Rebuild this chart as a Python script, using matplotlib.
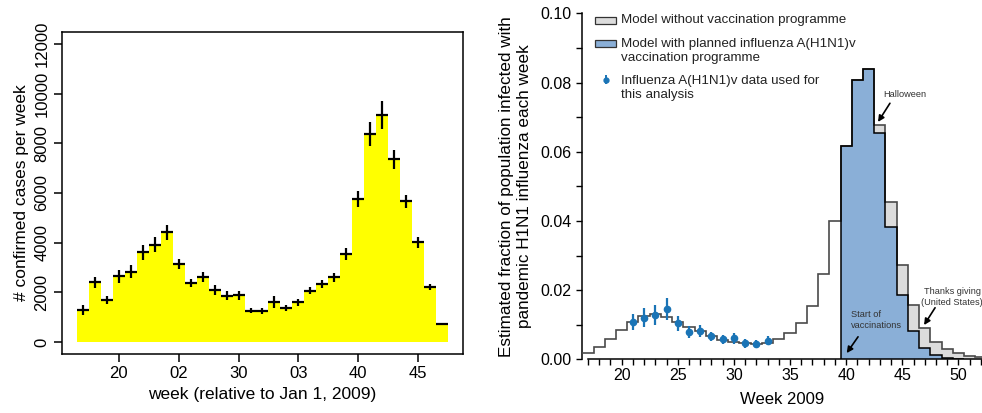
import matplotlib
matplotlib.use("Agg")
import matplotlib.pyplot as plt
import numpy as np
from matplotlib.patches import Rectangle
from matplotlib.ticker import FixedLocator, FormatStrFormatter

plt.rcParams['font.family'] = ['Liberation Sans', 'DejaVu Sans']

# ---- left panel: confirmed cases per week ----
weeks_left = list(range(17, 48))
cases = [1300, 2400, 1700, 2640, 2840, 3620, 3910, 4410, 3140, 2370, 2600,
         2100, 1860, 1880, 1270, 1250, 1610, 1370, 1600, 2060, 2330, 2600,
         3550, 5750, 8380, 9140, 7360, 5660, 4010, 2210, 720]
case_err = [200, 230, 160, 270, 250, 300, 300, 290, 200, 150, 200,
            200, 180, 180, 100, 120, 230, 120, 150, 140, 150, 180,
            230, 320, 470, 550, 380, 270, 230, 110, 50]
left_xticks = [20, 25, 30, 35, 40, 45]
left_xlabels = ["20", "02", "30", "03", "40", "45"]
left_yticks = [0, 2000, 4000, 6000, 8000, 10000, 12000]

# ---- right panel: model fractions ----
weeks_right = list(range(17, 53))
no_vacc = [0.0019, 0.0036, 0.0059, 0.0086, 0.0109, 0.0125, 0.0131, 0.0123,
           0.0109, 0.0094, 0.0083, 0.0068, 0.0056, 0.0051, 0.0046, 0.0044,
           0.0048, 0.0058, 0.0075, 0.0104, 0.0154, 0.0246, 0.0400, 0.0617,
           0.0807, 0.0838, 0.0676, 0.0454, 0.0273, 0.0157, 0.0090, 0.0051,
           0.0029, 0.0017, 0.0011, 0.0006]
weeks_vacc = list(range(40, 51))
with_vacc = [0.0617, 0.0807, 0.0838, 0.0653, 0.0383, 0.0186, 0.0081,
             0.0032, 0.0013, 0.0004, 0.0001]
data_weeks = list(range(21, 34))
data_vals = [0.0107, 0.0120, 0.0128, 0.0145, 0.0104, 0.0078, 0.0082,
             0.0066, 0.0058, 0.0061, 0.0046, 0.0044, 0.0054]
data_err = [0.0023, 0.0027, 0.0029, 0.0032, 0.0022, 0.0017, 0.0018,
            0.0014, 0.0013, 0.0016, 0.0012, 0.0011, 0.0012]
right_xticks = [20, 25, 30, 35, 40, 45, 50]
right_yticks = [0.0, 0.02, 0.04, 0.06, 0.08, 0.10]
right_yminor = [0.01, 0.03, 0.05, 0.07, 0.09]

GRAY = '#DCDCDC'
BLUE = '#8AAFD7'
DOT = '#1A74B6'

fig = plt.figure(figsize=(9.82, 4.13), dpi=100)

# ================= left =================
ax1 = fig.add_axes([0.0631, 0.1429, 0.4084, 0.7796])
ax1.bar(weeks_left, cases, width=1.0, color='#FFFF00', linewidth=0)
ax1.errorbar(weeks_left, cases, yerr=case_err, xerr=0.5, fmt='none',
             ecolor='black', elinewidth=1.6, capsize=0)
ax1.set_xlim(15.26, 48.74)
ax1.set_ylim(-480, 12480)
ax1.set_xticks(left_xticks)
ax1.set_xticklabels(left_xlabels)
ax1.set_yticks(left_yticks)
ax1.set_yticklabels([str(v) for v in left_yticks], rotation=90, va='center')
ax1.tick_params(direction='out', length=6, width=1.1, labelsize=12, pad=3)
for s in ax1.spines.values():
    s.set_linewidth(1.1)
ax1.set_xlabel("week (relative to Jan 1, 2009)", fontsize=12.5, labelpad=4)
ax1.set_ylabel("# confirmed cases per week", fontsize=12.5, labelpad=4)

# ================= right =================
ax2 = fig.add_axes([0.5924, 0.130, 0.4076, 0.8378])
edges = np.append(np.array(weeks_right) - 0.5, weeks_right[-1] + 0.5)
edges_v = np.append(np.array(weeks_vacc) - 0.5, weeks_vacc[-1] + 0.5)
i40 = weeks_right.index(40)
ax2.stairs(no_vacc[i40:], edges[i40:], fill=True, color=GRAY, zorder=1)
ax2.stairs(with_vacc, edges_v, fill=True, color=BLUE, zorder=2)
ax2.stairs(no_vacc, edges, baseline=None, color='#4a4a4a', linewidth=1.2,
           zorder=3)
ax2.stairs(with_vacc, edges_v, baseline=0, color='black', linewidth=1.1,
           zorder=4)
ax2.errorbar(data_weeks, data_vals, yerr=data_err, fmt='o', color=DOT,
             ms=4.5, elinewidth=1.6, capsize=0, zorder=5)

ax2.set_xlim(16.45, 52.1)
ax2.set_ylim(0, 0.1)
ax2.spines['top'].set_visible(False)
ax2.spines['right'].set_visible(False)
ax2.spines['left'].set_bounds(0, 0.1)
ax2.spines['bottom'].set_bounds(17, 52.1)
for s in ('left', 'bottom'):
    ax2.spines[s].set_linewidth(1.1)
ax2.xaxis.set_major_locator(FixedLocator(right_xticks))
ax2.xaxis.set_minor_locator(FixedLocator(weeks_right))
ax2.yaxis.set_major_locator(FixedLocator(right_yticks))
ax2.yaxis.set_minor_locator(FixedLocator(right_yminor))
ax2.yaxis.set_major_formatter(FormatStrFormatter('%.2f'))
ax2.tick_params(which='both', direction='out', length=4.5, width=1.0,
                labelsize=11.5, pad=3)
ax2.tick_params(axis='x', which='major', pad=2)
ax2.set_xlabel("Week 2009", fontsize=12, labelpad=6)
ax2.set_ylabel("Estimated fraction of population infected with\n"
               "pandemic H1N1 influenza each week", fontsize=12.3,
               labelpad=6, linespacing=1.2)

# legend drawn by hand
tr = ax2.transAxes
def ax_xy(px, py):
    return ((px - 581.7) / 400.3, (359.3 - py) / 346.0)

for py, col in [(20.5, GRAY), (44.0, BLUE)]:
    x0, y0 = ax_xy(595, py + 3.5)
    ax2.add_patch(Rectangle((x0, y0), 21 / 400.3, 7 / 346.0, transform=tr,
                            facecolor=col, edgecolor='#333333', lw=0.9,
                            clip_on=False))
mx, my = ax_xy(605.5, 79.5)
ax2.errorbar([mx], [my], yerr=[0.012], fmt='o', color=DOT, ms=3.5,
             elinewidth=1.4, transform=tr, clip_on=False)
leg_texts = [(20.0, "Model without vaccination programme"),
             (51.0, "Model with planned influenza A(H1N1)v\nvaccination programme"),
             (88.0, "Influenza A(H1N1)v data used for\nthis analysis")]
for py, t in leg_texts:
    tx, ty = ax_xy(621, py)
    ax2.text(tx, ty, t, transform=tr, fontsize=9.6, va='center', ha='left',
             color='#222222', linespacing=1.15)

# annotations
arrow = dict(arrowstyle='-|>', color='black', lw=1.2, mutation_scale=9,
             shrinkA=0, shrinkB=0)
ax2.annotate("", xy=(42.84, 0.0686), xytext=(43.9, 0.0740),
             arrowprops=arrow, zorder=6)
ax2.text(45.25, 0.0764, "Halloween", fontsize=6.7, ha='center', va='center',
         color='#333333')
ax2.annotate("", xy=(46.94, 0.0099), xytext=(47.92, 0.0149),
             arrowprops=arrow, zorder=6)
ax2.text(49.45, 0.0181, "Thanks giving\n(United States)", fontsize=6.6,
         ha='center', va='center', color='#333333', linespacing=1.25,
         clip_on=False)
ax2.annotate("", xy=(40.05, 0.0018), xytext=(41.06, 0.0065),
             arrowprops=arrow, zorder=6)
ax2.text(40.4, 0.0114, "Start of\nvaccinations", fontsize=6.7, ha='left',
         va='center', color='#333333', linespacing=1.25, zorder=6)

fig.savefig("out.png", dpi=100)
